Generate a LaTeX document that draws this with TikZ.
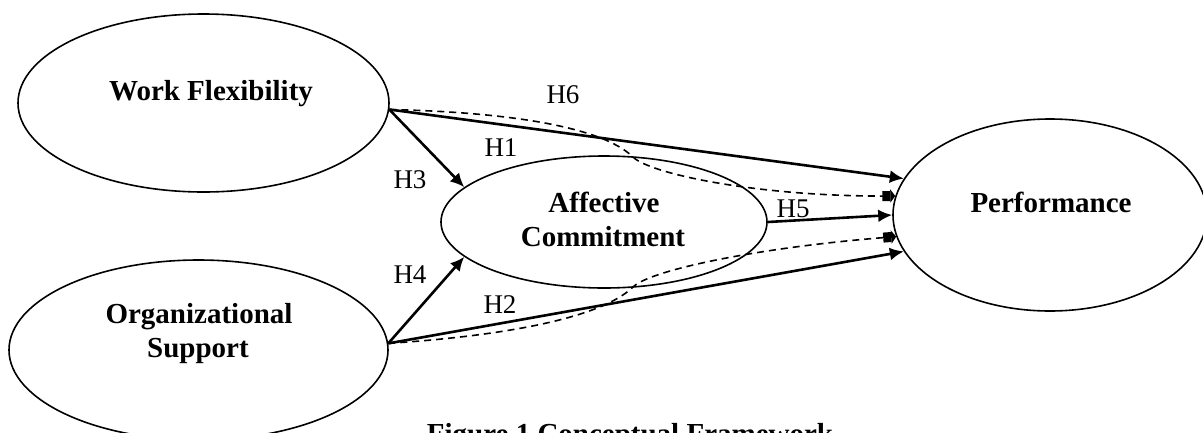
\documentclass[tikz,border=0pt]{standalone}
\usepackage{fontspec}
\setmainfont{Liberation Serif}
\usetikzlibrary{shapes.geometric,arrows.meta}
\begin{document}
\begin{tikzpicture}[x=1pt,y=-1pt,
  ell/.style={ellipse,draw,line width=1.6pt,inner sep=0pt},
  nodetext/.style={font=\fontsize{29}{33}\selectfont\bfseries,anchor=base,inner sep=0pt},
  hlabel/.style={font=\fontsize{27}{30}\selectfont,anchor=base,inner sep=0pt},
  solidarrow/.style={line width=2.6pt,-{Latex[length=14pt,width=13pt]}},
  dasharrow/.style={line width=1.6pt,dash pattern=on 7pt off 5pt,
     -{Rectangle[length=8pt,width=10pt,sep=0pt]Triangle[length=5pt,width=13pt]}}
]
\useasboundingbox (0,0) rectangle (1203,432);
% ellipses
\node[ell,minimum width=371pt,minimum height=178pt] (wf) at (203.5,103) {};
\node[ell,minimum width=379pt,minimum height=180pt] (os) at (198.5,350) {};
\node[ell,minimum width=326pt,minimum height=132pt] (ac) at (604,222) {};
\node[ell,minimum width=314pt,minimum height=192pt] (pf) at (1050,215) {};
% texts
\node[nodetext] (twf) at (211,100) {Work Flexibility};
\node[nodetext] (tos1) at (199,323) {Organizational};
\node[nodetext] (tos2) at (198,357) {Support};
\node[nodetext] (tac1) at (604,212) {Affective};
\node[nodetext] (tac2) at (603,246) {Commitment};
\node[nodetext] (tpf) at (1051,212) {Performance};
% connectors
\draw[solidarrow] (wf.-2) -- (pf.166);
\draw[solidarrow] (os.2) -- (pf.194);
\draw[solidarrow] (wf.-2) -- (ac.166);
\draw[solidarrow] (os.2) -- (ac.-166);
\draw[solidarrow] (ac.0) -- (pf.180);
\coordinate (m1) at (633,157);
\coordinate (m2) at (633,287);
\draw[dasharrow] (wf.-2) .. controls (500,112) and (600,125) .. (m1)
   .. controls (650,174) and (760,197) .. (pf.173);
\draw[dasharrow] (os.2) .. controls (500,336) and (600,319) .. (m2)
   .. controls (650,270) and (760,247) .. (pf.188);
% labels
\node[hlabel] (h6) at (563,103) {H6};
\node[hlabel] (h1) at (501,156) {H1};
\node[hlabel] (h3) at (410,188) {H3};
\node[hlabel] (h5) at (793,217) {H5};
\node[hlabel] (h4) at (410,283) {H4};
\node[hlabel] (h2) at (500,313) {H2};
% caption
\node[nodetext] (cap) at (630,443) {Figure 1 Conceptual Framework};
\end{tikzpicture}
\end{document}
